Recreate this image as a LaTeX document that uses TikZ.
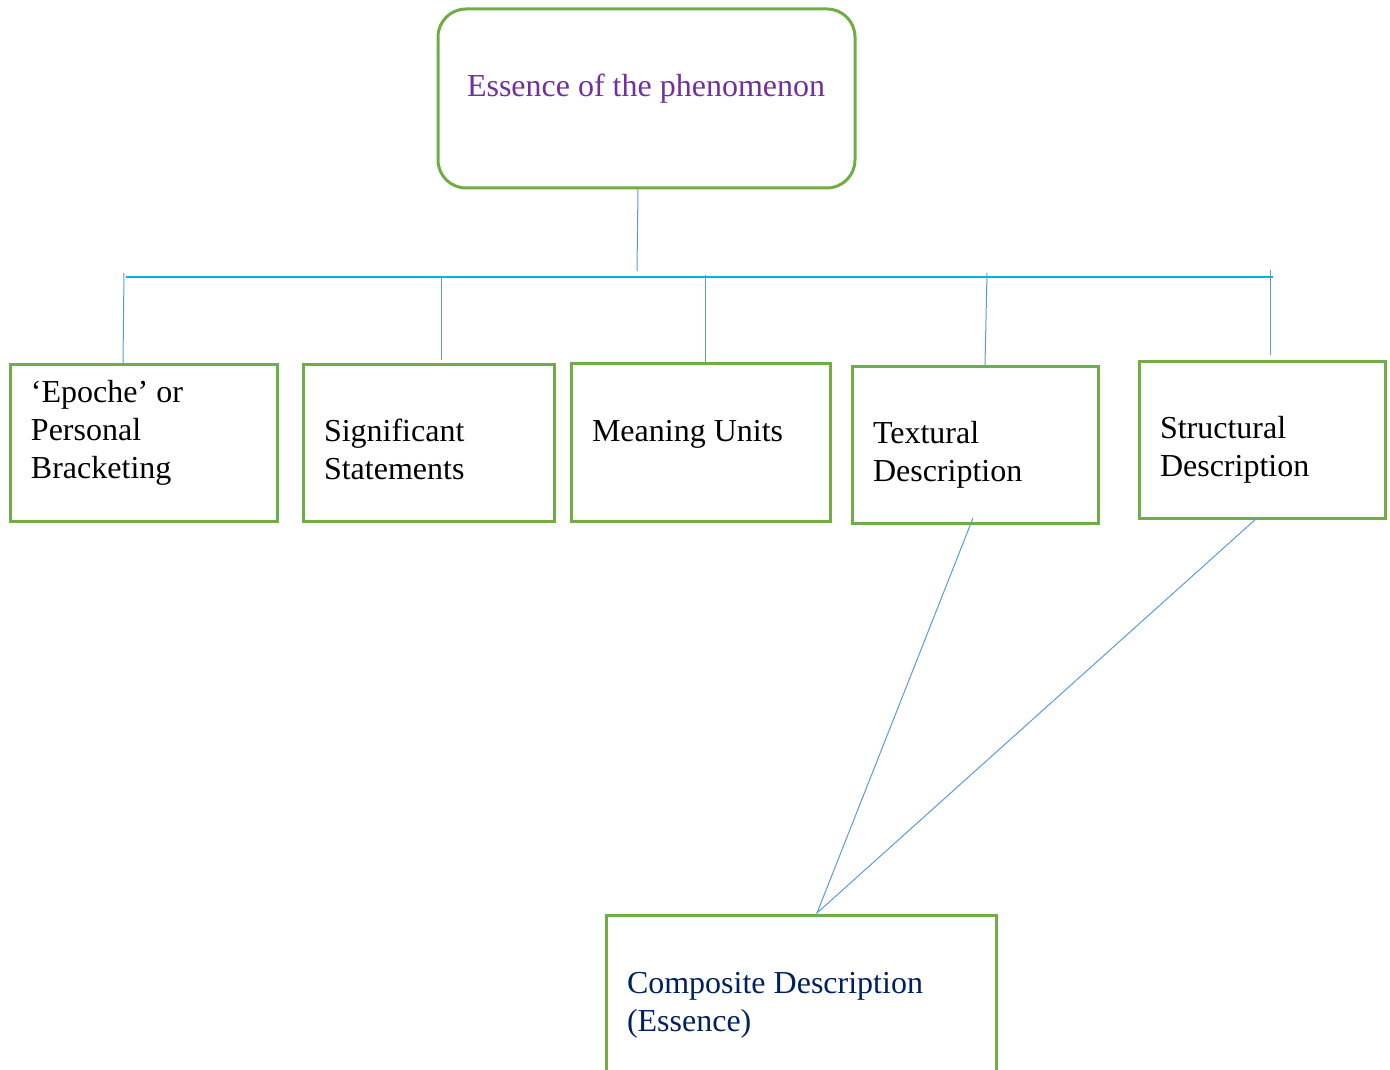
\documentclass[tikz,border=0pt]{standalone}
\usepackage{fontspec}
\setmainfont{Liberation Serif}
\begin{document}
\begin{tikzpicture}[x=0.75pt,y=-0.75pt,
  every node/.style={inner sep=0pt, outer sep=0pt},
  stepbox/.style={draw=boxgreen, line width=2.25pt, anchor=north west},
  roundbox/.style={stepbox, rounded corners=21pt},
  label text/.style={anchor=base west, align=left, font=\fontsize{24}{28.2}\selectfont},
  link/.style={draw=linkblue, line width=0.75pt},
  bus/.style={draw=busblue, line width=1.6pt}]
\definecolor{boxgreen}{HTML}{70AD47}
\definecolor{linkblue}{HTML}{5B9BD5}
\definecolor{busblue}{HTML}{00B0F0}
\definecolor{titlepurple}{HTML}{7030A0}
\definecolor{navy}{HTML}{002060}
\useasboundingbox (0,0) rectangle (1390,1070);
\clip (0,0) rectangle (1390,1070);

% boxes
\node[roundbox, minimum width=312.75pt, minimum height=134.25pt] (top) at (438,9) {};
\node[stepbox, minimum width=200.25pt, minimum height=117.75pt] (b1) at (10,364) {};
\node[stepbox, minimum width=188.25pt, minimum height=117.75pt] (b2) at (303,364) {};
\node[stepbox, minimum width=194.25pt, minimum height=118.5pt] (b3) at (571,363) {};
\node[stepbox, minimum width=184.5pt, minimum height=117.75pt] (b4) at (852,366) {};
\node[stepbox, minimum width=184.5pt, minimum height=117.75pt] (b5) at (1139,361) {};
\node[stepbox, minimum width=292.5pt, minimum height=150pt] (comp) at (606,915) {};

% texts (anchored at the baseline of their last line)
\node[label text, text=titlepurple] (ttop) at (467,97) {Essence of the phenomenon};
\node[label text] (t1) at (31,478) {‘Epoche’ or\\Personal\\Bracketing};
\node[label text] (t2) at (324,479) {Significant\\Statements};
\node[label text] (t3) at (592,441) {Meaning Units};
\node[label text] (t4) at (873,481) {Textural\\Description};
\node[label text] (t5) at (1160,476) {Structural\\Description};
\node[label text, text=navy] (tcomp) at (627,1031) {Composite Description\\(Essence)};

% bus line and its drops
\coordinate (busL) at (126,277);
\coordinate (busR) at (1273,277);
\coordinate (stemtop) at (638,189);
\coordinate (stem) at (637,271);
\coordinate (d1) at (124,273);
\coordinate (d2) at (441,276);
\coordinate (d3) at (705,275);
\coordinate (d4) at (987,273);
\coordinate (d5) at (1270,270);
\coordinate (e1) at (123,363);
\coordinate (e2) at (441,360);
\coordinate (e3) at (705,362);
\coordinate (e4) at (985,365);
\coordinate (e5) at (1270,355);

\draw[link] (stemtop) -- (stem);
\draw[bus] (busL) -- (busR);
\draw[link] (d1) -- (e1);
\draw[link] (d2) -- (e2);
\draw[link] (d3) -- (e3);
\draw[link] (d4) -- (e4);
\draw[link] (d5) -- (e5);

% converging lines to the composite box
\coordinate (s4) at (973,518);
\coordinate (s5) at (1257,518);
\coordinate (apex) at (817,913);
\draw[link] (s4) -- (apex) -- (s5);
\end{tikzpicture}
\end{document}
